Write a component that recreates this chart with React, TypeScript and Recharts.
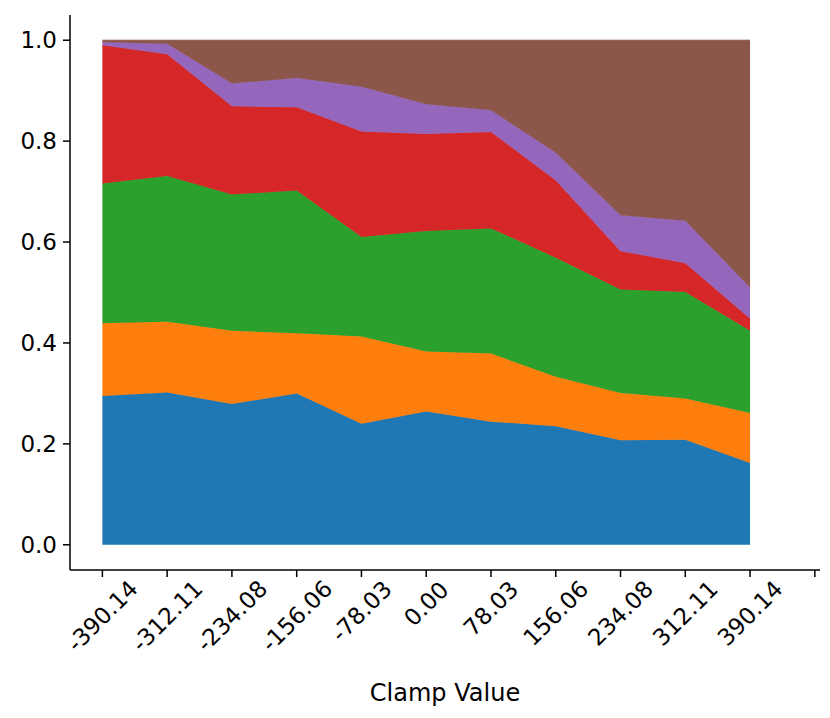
import { AreaChart, Area, XAxis, YAxis } from "recharts"

const clampLabels = ["-390.14", "-312.11", "-234.08", "-156.06", "-78.03", "0.00", "78.03", "156.06", "234.08", "312.11", "390.14"]

const blue = [0.295, 0.302, 0.279, 0.300, 0.240, 0.264, 0.244, 0.235, 0.207, 0.208, 0.162]
const orange = [0.144, 0.140, 0.145, 0.119, 0.173, 0.119, 0.135, 0.098, 0.094, 0.082, 0.099]
const green = [0.277, 0.289, 0.270, 0.283, 0.197, 0.239, 0.248, 0.236, 0.205, 0.211, 0.163]
const red = [0.274, 0.241, 0.175, 0.165, 0.209, 0.192, 0.191, 0.153, 0.076, 0.057, 0.024]
const purple = [0.006, 0.021, 0.045, 0.058, 0.089, 0.059, 0.043, 0.055, 0.071, 0.084, 0.062]
const brown = [0.004, 0.007, 0.086, 0.075, 0.092, 0.127, 0.139, 0.223, 0.347, 0.358, 0.490]

const series = [
  { key: "s0", values: blue, color: "#1f77b4" },
  { key: "s1", values: orange, color: "#ff7f0e" },
  { key: "s2", values: green, color: "#2ca02c" },
  { key: "s3", values: red, color: "#d62728" },
  { key: "s4", values: purple, color: "#9467bd" },
  { key: "s5", values: brown, color: "#8c564b" },
]

const data = clampLabels.map((_, i) => {
  const row: Record<string, number> = { x: i }
  series.forEach((s) => (row[s.key] = s.values[i]))
  return row
})

const FONT = 23
const xTicks = [0, 1, 2, 3, 4, 5, 6, 7, 8, 9, 10, 11]

// widths of DejaVu Sans glyphs, so the rotated label can be centred like matplotlib does
function textWidth(s: string) {
  let w = 0
  for (const c of s) w += c === "." ? 0.318 : c === "-" ? 0.361 : 0.636
  return w * FONT
}

function XTick(props: any) {
  const { x, y, payload } = props
  const label = clampLabels[payload.value] ?? ""
  if (!label) return null
  const w = textWidth(label)
  const half = (w * 0.92 + FONT * 0.75) / (2 * Math.SQRT2)
  return (
    <g transform={`translate(${x},${y + 2 + half})`}>
      <text transform="rotate(-45)" textAnchor="middle" dominantBaseline="central" fontSize={FONT} fill="#000">
        {label}
      </text>
    </g>
  )
}

export default function App() {
  return (
    <div style={{ position: "absolute", left: 0, top: 0, fontFamily: "DejaVu Sans" }}>
      <AreaChart width={830} height={718} data={data} margin={{ top: 15, right: 10, left: 0, bottom: 0 }}>
        <XAxis
          dataKey="x"
          type="number"
          domain={[-0.5, 11.08]}
          ticks={xTicks}
          interval={0}
          allowDataOverflow
          height={148}
          tick={<XTick />}
          tickSize={7}
          tickLine={{ stroke: "#000", strokeWidth: 1.5 }}
          axisLine={{ stroke: "#000", strokeWidth: 1.5 }}
          label={{ value: "Clamp Value", position: "insideBottom", offset: 17, fontSize: 24, fill: "#000" }}
        />
        <YAxis
          type="number"
          domain={[-0.05, 1.05]}
          ticks={[0, 0.2, 0.4, 0.6, 0.8, 1.0]}
          allowDataOverflow
          width={70}
          tickFormatter={(v: number) => v.toFixed(1)}
          tick={{ fontSize: FONT, fill: "#000" }}
          tickSize={7}
          tickMargin={6}
          tickLine={{ stroke: "#000", strokeWidth: 1.5 }}
          axisLine={{ stroke: "#000", strokeWidth: 1.5 }}
        />
        {series.map((s) => (
          <Area
            key={s.key}
            dataKey={s.key}
            stackId="1"
            type="linear"
            fill={s.color}
            fillOpacity={1}
            stroke={s.color}
            strokeWidth={1}
            isAnimationActive={false}
            dot={false}
            activeDot={false}
          />
        ))}
      </AreaChart>
    </div>
  )
}
